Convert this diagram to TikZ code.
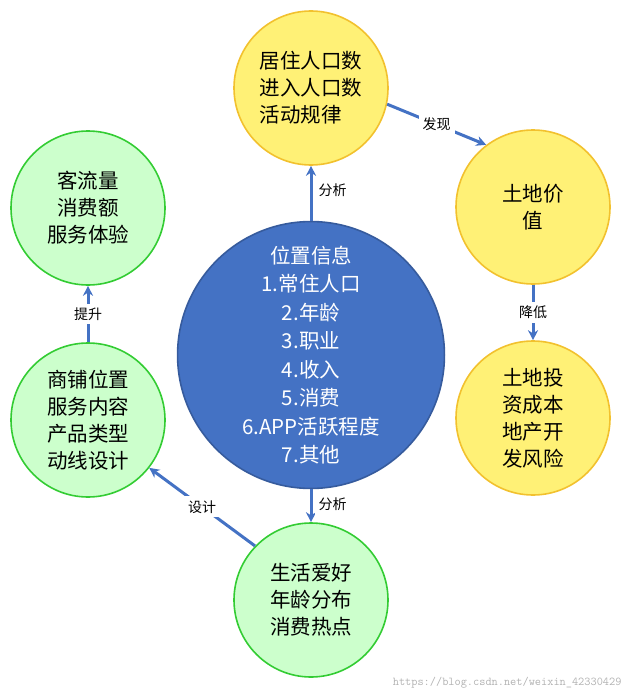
\documentclass[tikz,border=0pt]{standalone}
\usepackage{fontspec}
\setmainfont{Noto Sans CJK SC}
\usetikzlibrary{arrows.meta}
\definecolor{myblue}{HTML}{4472C4}
\definecolor{myyellow}{HTML}{FFF176}
\definecolor{mygold}{HTML}{F2C12E}
\definecolor{mygreen}{HTML}{CCFFCC}
\definecolor{mydkgreen}{HTML}{33CC33}
\tikzset{
  yball/.style={circle, draw=mygold, fill=myyellow, line width=1.6pt, minimum size=154pt, align=center, font=\fontsize{20.5}{27}\selectfont},
  gball/.style={circle, draw=mydkgreen, fill=mygreen, line width=1.6pt, minimum size=154pt, align=center, font=\fontsize{20.5}{27}\selectfont},
  flow/.style={draw=myblue, line width=3pt, -{Stealth[length=10pt,width=10pt]}},
  tag/.style={fill=white, font=\fontsize{14}{16}\selectfont, inner sep=4pt}
}
\begin{document}
\begin{tikzpicture}[x=1pt, y=-1pt]
  \useasboundingbox (0,0) rectangle (631,698);

  \node[circle, draw=myblue!80!black, fill=myblue, line width=1.6pt, minimum size=266pt, align=center,
        text=white, font=\fontsize{20.5}{28.5}\selectfont] (info) at (311,355)
    {位置信息\\1.常住人口\\2.年龄\\3.职业\\4.收入\\5.消费\\6.APP活跃程度\\7.其他};

  \node[yball, align=left] (people) at (311,88) {居住人口数\\进入人口数\\活动规律};
  \node[yball] (value) at (533,207) {土地价\\值};
  \node[yball] (cost) at (533,418) {土地投\\资成本\\地产开\\发风险};
  \node[gball] (flowq) at (88,208) {客流量\\消费额\\服务体验};
  \node[gball] (shop) at (88,420) {商铺位置\\服务内容\\产品类型\\动线设计};
  \node[gball] (life) at (311,600) {生活爱好\\年龄分布\\消费热点};

  \draw[flow] (info) -- (people) node[tag, pos=0.55, right=2pt] {分析};
  \draw[flow] (people.-12) -- (value.127) node[tag, midway] {发现};
  \draw[flow] (value) -- (cost) node[tag, midway] {降低};
  \draw[flow] (info) -- (life) node[tag, pos=0.45, right=2pt] {分析};
  \draw[flow] (life.136) -- (shop.-38) node[tag, midway] {设计};
  \draw[flow] (shop) -- (flowq) node[tag, midway] {提升};

  \node[text=gray!60, font=\ttfamily\fontsize{12}{14}\selectfont, anchor=south east] (mark) at (625,692)
    {https://blog.csdn.net/weixin\_42330429};
\end{tikzpicture}
\end{document}
